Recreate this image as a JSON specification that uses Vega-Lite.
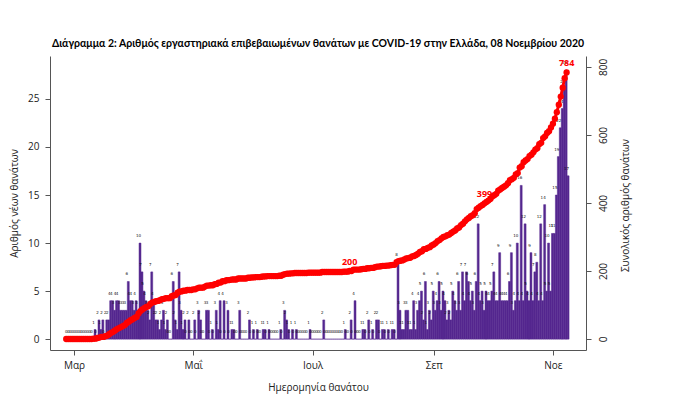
{
  "$schema": "https://vega.github.io/schema/vega-lite/v6.json",
  "autosize": "none",
  "width": 536,
  "height": 294,
  "padding": {"left": 50, "top": 56, "right": 94, "bottom": 60},
  "background": "white",
  "title": {"text": "Διάγραμμα 2: Αριθμός εργαστηριακά επιβεβαιωμένων θανάτων με COVID-19 στην Ελλάδα, 08 Νοεμβρίου 2020", "font": "Lato", "fontSize": 10.5, "fontWeight": "bold", "color": "#000", "anchor": "middle", "offset": 7},
  "config": {"view": {"stroke": null}, "axis": {"grid": false, "labelFont": "Open Sans", "titleFont": "Open Sans", "labelFontSize": 10, "titleFontSize": 10, "titleFontWeight": "normal", "labelColor": "#222", "titleColor": "#222", "domainColor": "#555", "tickColor": "#555", "tickSize": 5}},
  "data": {"values": [
    {"d":"2020-02-26","n":0},{"d":"2020-02-27","n":0},{"d":"2020-02-28","n":0},{"d":"2020-02-29","n":0},
    {"d":"2020-03-01","n":0},{"d":"2020-03-02","n":0},{"d":"2020-03-03","n":0},{"d":"2020-03-04","n":0},{"d":"2020-03-05","n":0},{"d":"2020-03-06","n":0},{"d":"2020-03-07","n":0},{"d":"2020-03-08","n":0},{"d":"2020-03-09","n":0},{"d":"2020-03-10","n":0},
    {"d":"2020-03-11","n":1},{"d":"2020-03-12","n":0},{"d":"2020-03-13","n":2},{"d":"2020-03-14","n":1},{"d":"2020-03-15","n":2},{"d":"2020-03-16","n":0},{"d":"2020-03-17","n":2},{"d":"2020-03-18","n":2},{"d":"2020-03-19","n":4},{"d":"2020-03-20","n":4},{"d":"2020-03-21","n":3},{"d":"2020-03-22","n":4},{"d":"2020-03-23","n":4},{"d":"2020-03-24","n":3},{"d":"2020-03-25","n":3},{"d":"2020-03-26","n":3},{"d":"2020-03-27","n":3},{"d":"2020-03-28","n":6},{"d":"2020-03-29","n":4},{"d":"2020-03-30","n":4},{"d":"2020-03-31","n":3},
    {"d":"2020-04-01","n":4},{"d":"2020-04-02","n":3},{"d":"2020-04-03","n":10},{"d":"2020-04-04","n":7},{"d":"2020-04-05","n":5},{"d":"2020-04-06","n":4},{"d":"2020-04-07","n":3},{"d":"2020-04-08","n":2},{"d":"2020-04-09","n":7},{"d":"2020-04-10","n":4},
    {"d":"2020-04-11","n":2},{"d":"2020-04-12","n":2},{"d":"2020-04-13","n":1},{"d":"2020-04-14","n":2},{"d":"2020-04-15","n":3},{"d":"2020-04-16","n":1},{"d":"2020-04-17","n":2},{"d":"2020-04-18","n":0},{"d":"2020-04-19","n":0},{"d":"2020-04-20","n":6},
    {"d":"2020-04-21","n":2},{"d":"2020-04-22","n":1},{"d":"2020-04-23","n":7},{"d":"2020-04-24","n":3},{"d":"2020-04-25","n":1},{"d":"2020-04-26","n":2},{"d":"2020-04-27","n":0},{"d":"2020-04-28","n":2},{"d":"2020-04-29","n":0},{"d":"2020-04-30","n":0},
    {"d":"2020-05-01","n":2},{"d":"2020-05-02","n":0},{"d":"2020-05-03","n":3},{"d":"2020-05-04","n":2},{"d":"2020-05-05","n":0},{"d":"2020-05-06","n":0},{"d":"2020-05-07","n":3},{"d":"2020-05-08","n":3},{"d":"2020-05-09","n":0},{"d":"2020-05-10","n":1},
    {"d":"2020-05-11","n":0},{"d":"2020-05-12","n":3},{"d":"2020-05-13","n":1},{"d":"2020-05-14","n":4},{"d":"2020-05-15","n":0},{"d":"2020-05-16","n":4},{"d":"2020-05-17","n":0},{"d":"2020-05-18","n":3},{"d":"2020-05-19","n":0},{"d":"2020-05-20","n":1},
    {"d":"2020-05-21","n":1},{"d":"2020-05-22","n":0},{"d":"2020-05-23","n":0},{"d":"2020-05-24","n":3},{"d":"2020-05-25","n":0},{"d":"2020-05-26","n":0},{"d":"2020-05-27","n":0},{"d":"2020-05-28","n":0},{"d":"2020-05-29","n":2},{"d":"2020-05-30","n":0},{"d":"2020-05-31","n":1},
    {"d":"2020-06-01","n":0},{"d":"2020-06-02","n":1},{"d":"2020-06-03","n":0},{"d":"2020-06-04","n":0},{"d":"2020-06-05","n":1},{"d":"2020-06-06","n":1},{"d":"2020-06-07","n":0},{"d":"2020-06-08","n":1},{"d":"2020-06-09","n":0},{"d":"2020-06-10","n":0},
    {"d":"2020-06-11","n":0},{"d":"2020-06-12","n":0},{"d":"2020-06-13","n":0},{"d":"2020-06-14","n":1},{"d":"2020-06-15","n":0},{"d":"2020-06-16","n":3},{"d":"2020-06-17","n":2},{"d":"2020-06-18","n":1},{"d":"2020-06-19","n":0},{"d":"2020-06-20","n":1},
    {"d":"2020-06-21","n":0},{"d":"2020-06-22","n":1},{"d":"2020-06-23","n":0},{"d":"2020-06-24","n":0},{"d":"2020-06-25","n":0},{"d":"2020-06-26","n":0},{"d":"2020-06-27","n":0},{"d":"2020-06-28","n":0},{"d":"2020-06-29","n":1},{"d":"2020-06-30","n":0},
    {"d":"2020-07-01","n":0},{"d":"2020-07-02","n":0},{"d":"2020-07-03","n":0},{"d":"2020-07-04","n":0},{"d":"2020-07-05","n":0},{"d":"2020-07-06","n":2},{"d":"2020-07-07","n":0},{"d":"2020-07-08","n":0},{"d":"2020-07-09","n":0},{"d":"2020-07-10","n":0},
    {"d":"2020-07-11","n":0},{"d":"2020-07-12","n":0},{"d":"2020-07-13","n":0},{"d":"2020-07-14","n":0},{"d":"2020-07-15","n":0},{"d":"2020-07-16","n":0},{"d":"2020-07-17","n":1},{"d":"2020-07-18","n":0},{"d":"2020-07-19","n":0},{"d":"2020-07-20","n":2},
    {"d":"2020-07-21","n":0},{"d":"2020-07-22","n":4},{"d":"2020-07-23","n":0},{"d":"2020-07-24","n":0},{"d":"2020-07-25","n":0},{"d":"2020-07-26","n":1},{"d":"2020-07-27","n":1},{"d":"2020-07-28","n":0},{"d":"2020-07-29","n":2},{"d":"2020-07-30","n":0},{"d":"2020-07-31","n":1},
    {"d":"2020-08-01","n":0},{"d":"2020-08-02","n":2},{"d":"2020-08-03","n":2},{"d":"2020-08-04","n":0},{"d":"2020-08-05","n":1},{"d":"2020-08-06","n":1},{"d":"2020-08-07","n":0},{"d":"2020-08-08","n":1},{"d":"2020-08-09","n":0},{"d":"2020-08-10","n":1},
    {"d":"2020-08-11","n":1},{"d":"2020-08-12","n":0},{"d":"2020-08-13","n":8},{"d":"2020-08-14","n":3},{"d":"2020-08-15","n":1},{"d":"2020-08-16","n":1},{"d":"2020-08-17","n":3},{"d":"2020-08-18","n":3},{"d":"2020-08-19","n":1},{"d":"2020-08-20","n":1},
    {"d":"2020-08-21","n":4},{"d":"2020-08-22","n":1},{"d":"2020-08-23","n":3},{"d":"2020-08-24","n":4},{"d":"2020-08-25","n":5},{"d":"2020-08-26","n":2},{"d":"2020-08-27","n":6},{"d":"2020-08-28","n":1},{"d":"2020-08-29","n":3},{"d":"2020-08-30","n":2},{"d":"2020-08-31","n":5},
    {"d":"2020-09-01","n":3},{"d":"2020-09-02","n":4},{"d":"2020-09-03","n":6},{"d":"2020-09-04","n":3},{"d":"2020-09-05","n":5},{"d":"2020-09-06","n":4},{"d":"2020-09-07","n":2},{"d":"2020-09-08","n":3},{"d":"2020-09-09","n":2},{"d":"2020-09-10","n":5},
    {"d":"2020-09-11","n":4},{"d":"2020-09-12","n":3},{"d":"2020-09-13","n":6},{"d":"2020-09-14","n":3},{"d":"2020-09-15","n":7},{"d":"2020-09-16","n":4},{"d":"2020-09-17","n":7},{"d":"2020-09-18","n":6},{"d":"2020-09-19","n":4},{"d":"2020-09-20","n":5},
    {"d":"2020-09-21","n":3},{"d":"2020-09-22","n":6},{"d":"2020-09-23","n":12},{"d":"2020-09-24","n":4},{"d":"2020-09-25","n":5},{"d":"2020-09-26","n":3},{"d":"2020-09-27","n":5},{"d":"2020-09-28","n":4},{"d":"2020-09-29","n":4},{"d":"2020-09-30","n":5},
    {"d":"2020-10-01","n":7},{"d":"2020-10-02","n":4},{"d":"2020-10-03","n":4},{"d":"2020-10-04","n":9},{"d":"2020-10-05","n":4},{"d":"2020-10-06","n":4},{"d":"2020-10-07","n":4},{"d":"2020-10-08","n":4},{"d":"2020-10-09","n":6},{"d":"2020-10-10","n":9},
    {"d":"2020-10-11","n":3},{"d":"2020-10-12","n":4},{"d":"2020-10-13","n":10},{"d":"2020-10-14","n":4},{"d":"2020-10-15","n":16},{"d":"2020-10-16","n":4},{"d":"2020-10-17","n":12},{"d":"2020-10-18","n":5},{"d":"2020-10-19","n":4},{"d":"2020-10-20","n":9},
    {"d":"2020-10-21","n":4},{"d":"2020-10-22","n":7},{"d":"2020-10-23","n":8},{"d":"2020-10-24","n":4},{"d":"2020-10-25","n":12},{"d":"2020-10-26","n":4},{"d":"2020-10-27","n":14},{"d":"2020-10-28","n":5},{"d":"2020-10-29","n":10},{"d":"2020-10-30","n":5},{"d":"2020-10-31","n":11},
    {"d":"2020-11-01","n":11},{"d":"2020-11-02","n":15},{"d":"2020-11-03","n":19},{"d":"2020-11-04","n":22},{"d":"2020-11-05","n":24},{"d":"2020-11-06","n":26},{"d":"2020-11-07","n":28},{"d":"2020-11-08","n":17}
  ]},
  "transform": [
    {"window": [{"op": "sum", "field": "n", "as": "cum"}], "sort": [{"field": "d", "order": "ascending"}], "frame": [null, 0]}
  ],
  "encoding": {
    "x": {
      "field": "d", "type": "temporal", "timeUnit": "utcyearmonthdate",
      "scale": {"type": "utc", "domain": [{"year": 2020, "month": 2, "date": 17, "hours": 17, "utc": true}, {"year": 2020, "month": 11, "date": 17, "hours": 22, "utc": true}], "nice": false},
      "axis": {
        "values": [{"year": 2020, "month": 3, "date": 1, "utc": true}, {"year": 2020, "month": 5, "date": 1, "utc": true}, {"year": 2020, "month": 7, "date": 1, "utc": true}, {"year": 2020, "month": 9, "date": 1, "utc": true}, {"year": 2020, "month": 11, "date": 1, "utc": true}],
        "labelExpr": "['Ιαν','Φεβ','Μαρ','Απρ','Μαΐ','Ιουν','Ιουλ','Αυγ','Σεπ','Οκτ','Νοε','Δεκ'][utcmonth(datum.value)]",
        "labelPadding": 5, "labelFlush": false, "labelOverlap": false,
        "title": "Ημερομηνία θανάτου", "titleX": 268, "titleY": 37, "titleBaseline": "middle", "titleAlign": "center"
      }
    }
  },
  "layer": [
    {
      "layer": [
        {
          "mark": {"type": "bar", "color": "#54278f", "binSpacing": 0, "stroke": "#54278f", "strokeWidth": 0.5},
          "encoding": {
            "y": {"field": "n", "type": "quantitative", "scale": {"domain": [-1.13, 29.47], "nice": false, "zero": false},
              "axis": {"values": [0, 5, 10, 15, 20, 25], "labelPadding": 6, "title": "Αριθμός νέων θανάτων", "titleX": -36, "titleY": 147, "titleAngle": -90, "titleAlign": "center", "titleBaseline": "middle"}},
            "y2": {"datum": 0}
          }
        },
        {
          "mark": {"type": "text", "fontSize": 4, "color": "#111", "dy": -7, "baseline": "middle", "font": "DejaVu Sans"},
          "encoding": {
            "y": {"field": "n", "type": "quantitative"},
            "text": {"field": "n", "type": "quantitative"}
          }
        }
      ]
    },
    {
      "layer": [
        {
          "mark": {"type": "line", "color": "#ff0000", "strokeWidth": 3},
          "encoding": {
            "y": {"field": "cum", "type": "quantitative", "scale": {"domain": [-32.4, 832.3], "nice": false, "zero": false},
              "axis": {"orient": "right", "values": [0, 200, 400, 600, 800], "labelAngle": -90, "labelAlign": "center", "labelBaseline": "middle", "labelPadding": 12,
                "title": "Συνολικός αριθμός θανάτων", "titleX": 39, "titleY": 149, "titleAngle": -90, "titleAlign": "center", "titleBaseline": "middle"}}
          }
        },
        {
          "mark": {"type": "point", "filled": true, "color": "#ff0000", "size": 40, "opacity": 1},
          "encoding": {"y": {"field": "cum", "type": "quantitative"}}
        },
        {
          "transform": [{"filter": "(utcmonth(datum.d)==6 && utcdate(datum.d)==20) || (utcmonth(datum.d)==8 && utcdate(datum.d)==27) || (utcmonth(datum.d)==10 && utcdate(datum.d)==8)"}],
          "mark": {"type": "text", "color": "#ff0000", "fontSize": 9, "fontWeight": "bold", "font": "Open Sans", "dy": -9, "baseline": "middle"},
          "encoding": {
            "y": {"field": "cum", "type": "quantitative"},
            "text": {"field": "cum", "type": "quantitative"}
          }
        }
      ]
    }
  ],
  "resolve": {"scale": {"y": "independent"}}
}
